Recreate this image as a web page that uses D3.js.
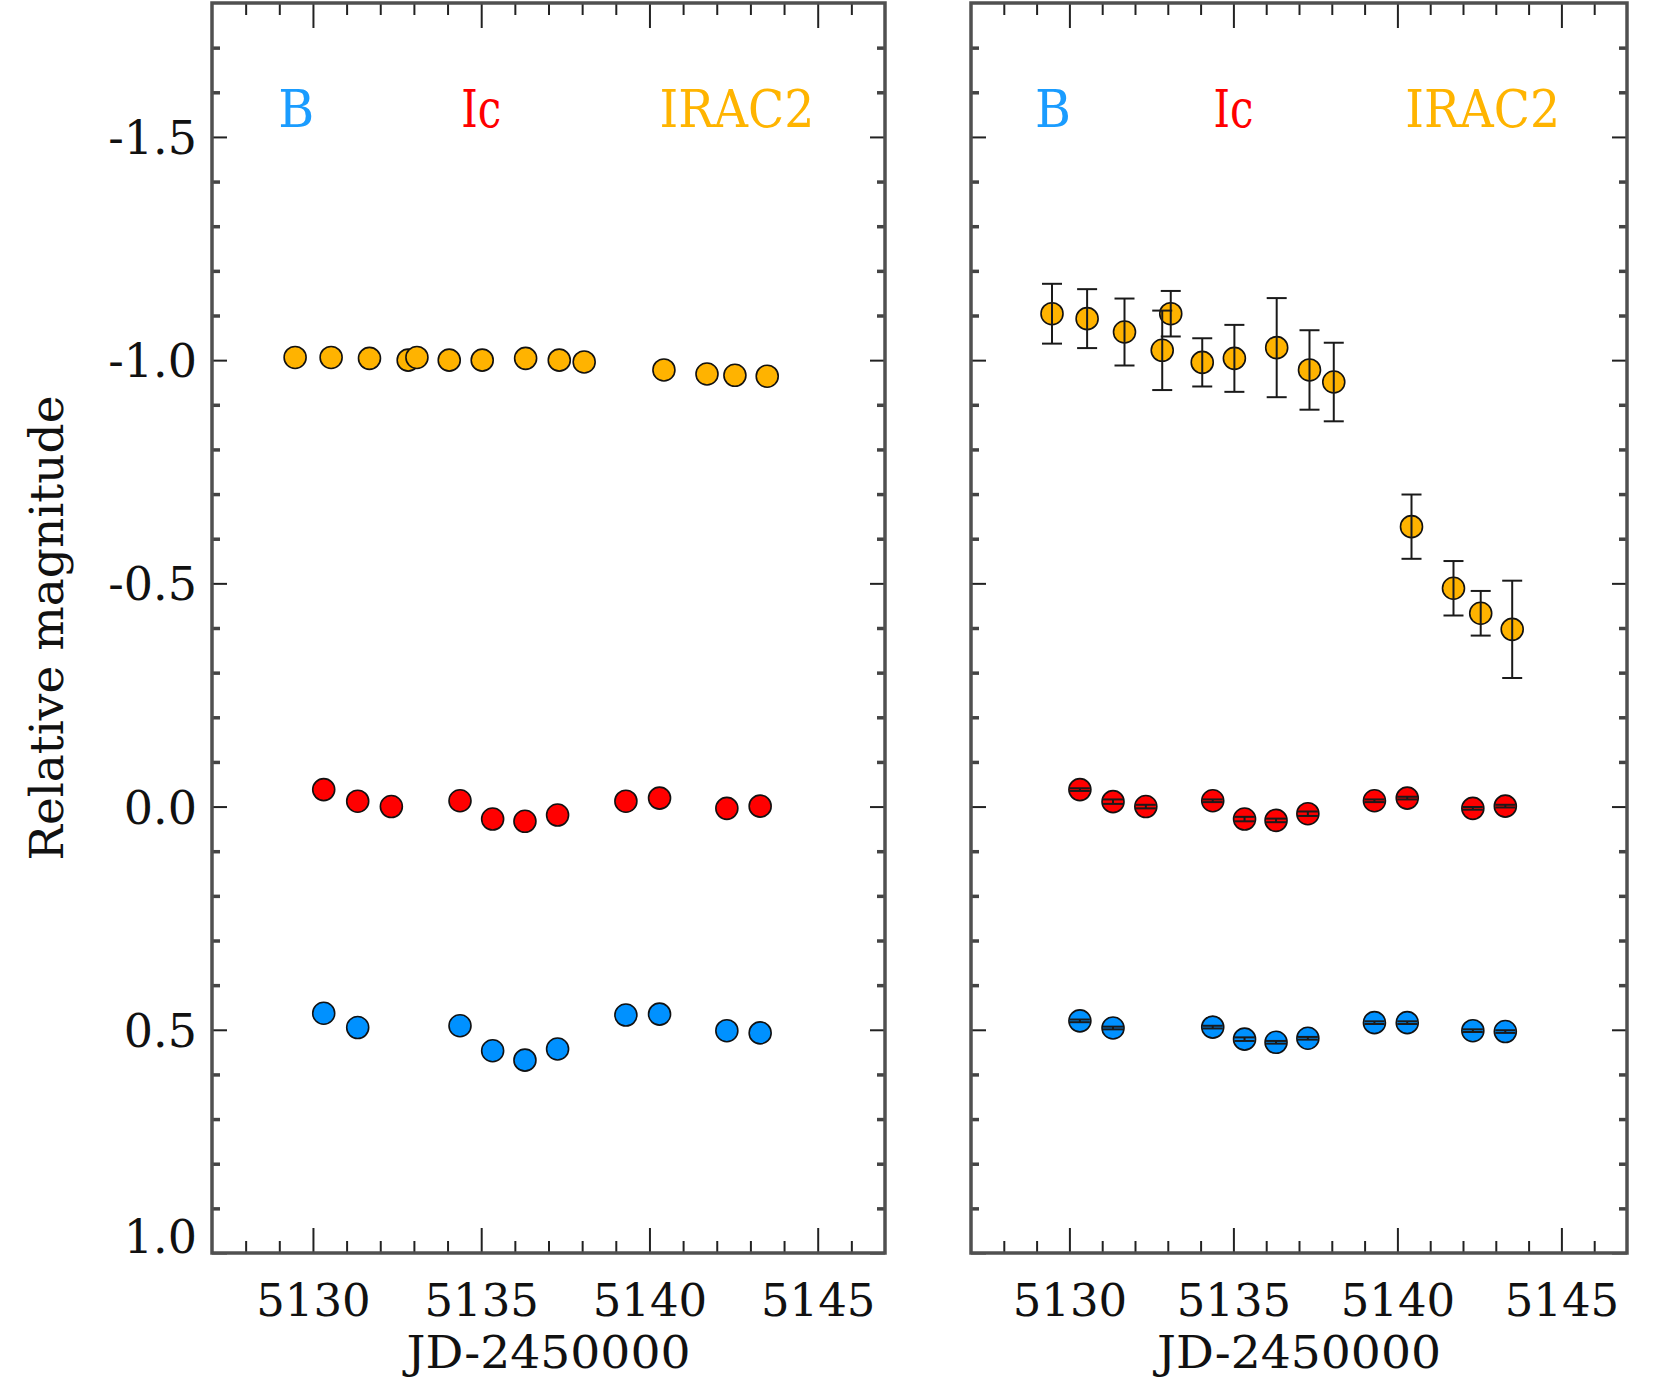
<!DOCTYPE html>
<html>
<head>
<meta charset="utf-8">
<script src="https://cdn.jsdelivr.net/npm/d3@7"></script>
<style>
  body { margin: 0; background: #fff; }
  svg { display: block; }
  text { font-family: "DejaVu Serif", "Liberation Serif", serif; }
</style>
</head>
<body>
<svg id="chart" width="1657" height="1379"></svg>
<script>
// Observation epochs (JD-2450000)
const irac2Dates = [5129.47, 5130.54, 5131.68, 5132.83, 5133.09, 5134.05, 5135.03, 5136.32, 5137.32, 5138.06, 5140.43, 5141.71, 5142.54, 5143.50];
const icDates    = [5130.32, 5131.33, 5132.33, 5134.37, 5135.34, 5136.30, 5137.27, 5139.30, 5140.30, 5142.30, 5143.29];
const bDates     = [5130.32, 5131.33, 5134.37, 5135.34, 5136.30, 5137.27, 5139.30, 5140.30, 5142.30, 5143.29];

// Left panel: relative magnitudes
const irac2Left = [-1.006, -1.006, -1.004, -1.000, -1.006, -1.000, -1.000, -1.004, -1.000, -0.996, -0.978, -0.969, -0.966, -0.964];
const icLeft    = [-0.038, -0.012, 0.000, -0.013, 0.028, 0.033, 0.019, -0.012, -0.019, 0.004, -0.001];
const bLeft     = [0.463, 0.495, 0.491, 0.547, 0.568, 0.543, 0.467, 0.465, 0.502, 0.507];

// Right panel: relative magnitudes with 1-sigma errors
const irac2Right    = [-1.104, -1.093, -1.063, -1.022, -1.104, -0.995, -1.004, -1.028, -0.978, -0.951, -0.627, -0.489, -0.433, -0.397];
const irac2RightErr = [0.067, 0.066, 0.075, 0.089, 0.051, 0.054, 0.075, 0.111, 0.089, 0.088, 0.072, 0.061, 0.050, 0.109];
const icRight       = [-0.038, -0.011, 0.000, -0.013, 0.028, 0.031, 0.016, -0.013, -0.019, 0.004, -0.001];
const icRightErr    = [0.003, 0.005, 0.004, 0.003, 0.005, 0.004, 0.005, 0.003, 0.003, 0.003, 0.003];
const bRight        = [0.480, 0.496, 0.494, 0.521, 0.528, 0.519, 0.484, 0.484, 0.502, 0.504];
const bRightErr     = [0.003, 0.003, 0.003, 0.004, 0.003, 0.003, 0.003, 0.003, 0.003, 0.003];

// Axis ticks and labels
const xMajorTicks = [5130, 5135, 5140, 5145];
const xMinorTicks = [5128, 5129, 5131, 5132, 5133, 5134, 5136, 5137, 5138, 5139, 5141, 5142, 5143, 5144, 5146];
const yMajorTicks = [-1.5, -1.0, -0.5, 0.0, 0.5, 1.0];
const yMinorTicks = [-1.7, -1.6, -1.4, -1.3, -1.2, -1.1, -0.9, -0.8, -0.7, -0.6, -0.4, -0.3, -0.2, -0.1, 0.1, 0.2, 0.3, 0.4, 0.6, 0.7, 0.8, 0.9];
const bandNames = ["B", "Ic", "IRAC2"];
const xTitle = "JD-2450000";
const yTitle = "Relative magnitude";

const colors = { B: "#0091ff", Ic: "#ff0000", IRAC2: "#ffb300" };
const textColors = { B: "#1a9cff", Ic: "#ff0000", IRAC2: "#ffb400" };

const svg = d3.select("#chart");
const yTop = 3, yBottom = 1253;
const y = d3.scaleLinear().domain([-1.8, 1.0]).range([yTop, yBottom]);
const fmtY = v => d3.format(".1f")(v).replace("\u2212", "-");

const panels = [
  { x0: 212, x1: 885, showYLabels: true,
    series: [
      { band: "IRAC2", dates: irac2Dates, mags: irac2Left },
      { band: "Ic", dates: icDates, mags: icLeft },
      { band: "B", dates: bDates, mags: bLeft }
    ] },
  { x0: 971, x1: 1627, showYLabels: false,
    series: [
      { band: "IRAC2", dates: irac2Dates, mags: irac2Right, errs: irac2RightErr },
      { band: "Ic", dates: icDates, mags: icRight, errs: icRightErr },
      { band: "B", dates: bDates, mags: bRight, errs: bRightErr }
    ] }
];

// Label anchor positions in data units
const labelX = { B: 5129.5, Ic: 5135.0, IRAC2: 5142.6 };
const labelWidth = { B: 36, Ic: 40, IRAC2: 155 };

panels.forEach(p => {
  const x = d3.scaleLinear().domain([5127, 5147]).range([p.x0, p.x1]);
  const g = svg.append("g");

  // tick marks on all four sides, pointing inward
  const styleAxis = (sel, w, c) => {
    sel.select(".domain").remove();
    sel.selectAll(".tick line").attr("stroke", c).attr("stroke-width", w);
  };

  const bx = g.append("g").attr("transform", `translate(0,${yBottom})`)
    .call(d3.axisBottom(x).tickValues(xMajorTicks).tickSize(-25).tickFormat(d3.format("d")));
  styleAxis(bx, 2, "#222");
  bx.selectAll(".tick text").attr("y", 63).attr("dy", null)
    .attr("font-size", 45).attr("fill", "#111")
    .attr("font-family", "'DejaVu Serif', serif");
  g.append("g").attr("transform", `translate(0,${yBottom})`)
    .call(d3.axisBottom(x).tickValues(xMinorTicks).tickSize(-12).tickFormat(""))
    .call(s => styleAxis(s, 2, "#222"));
  g.append("g").attr("transform", `translate(0,${yTop})`)
    .call(d3.axisTop(x).tickValues(xMajorTicks).tickSize(-25).tickFormat(""))
    .call(s => styleAxis(s, 2, "#222"));
  g.append("g").attr("transform", `translate(0,${yTop})`)
    .call(d3.axisTop(x).tickValues(xMinorTicks).tickSize(-12).tickFormat(""))
    .call(s => styleAxis(s, 2, "#222"));

  const ly = g.append("g").attr("transform", `translate(${p.x0},0)`)
    .call(d3.axisLeft(y).tickValues(yMajorTicks).tickSize(-15)
      .tickFormat(p.showYLabels ? fmtY : ""));
  styleAxis(ly, 2, "#222");
  // the label at the bottom edge sits on the axis instead of straddling it
  ly.selectAll(".tick text").attr("x", -15)
    .attr("dy", d => d === 1.0 ? "-0.02em" : "0.36em")
    .attr("font-size", 46).attr("fill", "#111")
    .attr("font-family", "'DejaVu Serif', serif");
  g.append("g").attr("transform", `translate(${p.x0},0)`)
    .call(d3.axisLeft(y).tickValues(yMinorTicks).tickSize(-8).tickFormat(""))
    .call(s => styleAxis(s, 3.5, "#444"));
  g.append("g").attr("transform", `translate(${p.x1},0)`)
    .call(d3.axisRight(y).tickValues(yMajorTicks).tickSize(-15).tickFormat(""))
    .call(s => styleAxis(s, 2, "#222"));
  g.append("g").attr("transform", `translate(${p.x1},0)`)
    .call(d3.axisRight(y).tickValues(yMinorTicks).tickSize(-8).tickFormat(""))
    .call(s => styleAxis(s, 3.5, "#444"));

  // frame
  g.append("rect").attr("x", p.x0).attr("y", yTop)
    .attr("width", p.x1 - p.x0).attr("height", yBottom - yTop)
    .attr("fill", "none").attr("stroke", "#505050").attr("stroke-width", 3.5);

  // photometric points, with error bars drawn over the markers
  p.series.forEach(s => {
    const pts = s.dates.map((d, i) => ({ d, m: s.mags[i], e: s.errs ? s.errs[i] : null }));
    g.append("g").selectAll("circle").data(pts).join("circle")
      .attr("cx", q => x(q.d)).attr("cy", q => y(q.m)).attr("r", 11)
      .attr("fill", colors[s.band]).attr("stroke", "#111").attr("stroke-width", 1.6);
    if (s.errs) {
      const eg = g.append("g").attr("stroke", "#1a1a1a").attr("stroke-width", 2);
      eg.selectAll("line.v").data(pts).join("line").attr("class", "v")
        .attr("x1", q => x(q.d)).attr("x2", q => x(q.d))
        .attr("y1", q => y(q.m - q.e)).attr("y2", q => y(q.m + q.e));
      eg.selectAll("line.t").data(pts).join("line").attr("class", "t")
        .attr("x1", q => x(q.d) - 10).attr("x2", q => x(q.d) + 10)
        .attr("y1", q => y(q.m - q.e)).attr("y2", q => y(q.m - q.e));
      eg.selectAll("line.b").data(pts).join("line").attr("class", "b")
        .attr("x1", q => x(q.d) - 10).attr("x2", q => x(q.d) + 10)
        .attr("y1", q => y(q.m + q.e)).attr("y2", q => y(q.m + q.e));
    }
  });

  // band names
  bandNames.forEach(b => {
    g.append("text").attr("x", x(labelX[b])).attr("y", y(-1.522))
      .attr("text-anchor", "middle").attr("font-size", 53)
      .attr("textLength", labelWidth[b]).attr("lengthAdjust", "spacingAndGlyphs")
      .attr("fill", textColors[b]).text(b);
  });

  // x-axis title
  g.append("text").attr("x", (p.x0 + p.x1) / 2).attr("y", 1368)
    .attr("text-anchor", "middle").attr("font-size", 44).attr("fill", "#111")
    .attr("textLength", 284).attr("lengthAdjust", "spacingAndGlyphs")
    .text(xTitle);
});

// y-axis title
svg.append("text").attr("transform", `translate(63,${(yTop + yBottom) / 2}) rotate(-90)`)
  .attr("text-anchor", "middle").attr("font-size", 46).attr("fill", "#111")
  .attr("textLength", 465).attr("lengthAdjust", "spacingAndGlyphs")
  .text(yTitle);
</script>
</body>
</html>
